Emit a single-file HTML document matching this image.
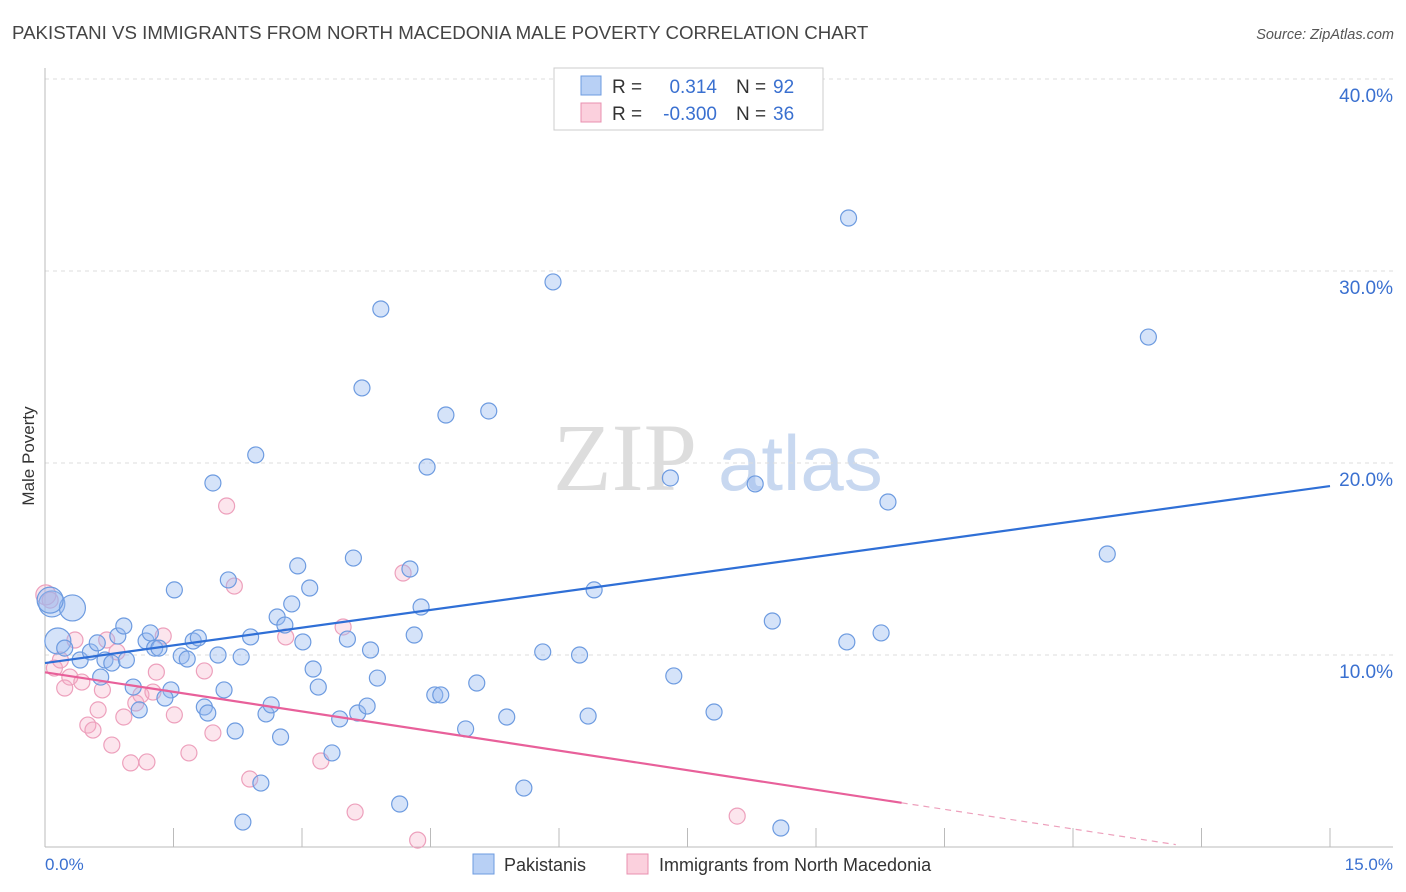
<!DOCTYPE html>
<html><head><meta charset="utf-8">
<style>
body{margin:0;background:#fff;font-family:"Liberation Sans",sans-serif;}
#wrap{position:relative;width:1406px;height:892px;overflow:hidden;}
</style></head>
<body>
<div id="wrap">
<svg id="svg" width="1406" height="892" xmlns="http://www.w3.org/2000/svg">
<text x="12" y="39" font-size="18.7" fill="#444">PAKISTANI VS IMMIGRANTS FROM NORTH MACEDONIA MALE POVERTY CORRELATION CHART</text>
<text x="1394" y="39" font-size="14.5" fill="#555" font-style="italic" text-anchor="end">Source: ZipAtlas.com</text>
<g>
<text x="553" y="490" font-family="Liberation Serif,serif" font-size="96" fill="#ddd">ZIP</text>
<text x="718" y="490" font-size="78" fill="#c8d8f0">atlas</text>
</g>
<g id="grid"></g>
<g id="axes"></g>
<g id="pts"></g>
<g id="lines"></g>
<text x="34" y="456" font-size="17" fill="#333" text-anchor="middle" transform="rotate(-90 34 456)">Male Poverty</text>
<text x="45" y="870" font-size="17" fill="#3a70d0">0.0%</text>
<text x="1393" y="870" font-size="17" fill="#3a70d0" text-anchor="end">15.0%</text>
<g>
<rect x="554" y="68" width="269" height="62" fill="#fff" stroke="#ccc"/>
<rect x="581" y="76" width="20" height="19" fill="#b8d0f5" stroke="#6d9be0"/>
<rect x="581" y="103" width="20" height="19" fill="#fbd0dd" stroke="#e890b0"/>
<text x="612" y="93" font-size="19" fill="#333">R = </text>
<text x="717" y="93" font-size="19" fill="#3a70d0" text-anchor="end">0.314</text>
<text x="736" y="93" font-size="19" fill="#333">N = </text>
<text x="773" y="93" font-size="19" fill="#3a70d0">92</text>
<text x="612" y="120" font-size="19" fill="#333">R = </text>
<text x="717" y="120" font-size="19" fill="#3a70d0" text-anchor="end">-0.300</text>
<text x="736" y="120" font-size="19" fill="#333">N = </text>
<text x="773" y="120" font-size="19" fill="#3a70d0">36</text>
</g>
<g>
<rect x="473" y="854" width="21" height="20" fill="#b8d0f5" stroke="#6d9be0"/>
<text x="504" y="871" font-size="18" fill="#333">Pakistanis</text>
<rect x="627" y="854" width="21" height="20" fill="#fbd0dd" stroke="#e890b0"/>
<text x="659" y="871" font-size="18" fill="#333">Immigrants from North Macedonia</text>
</g>
</svg>
</div>
<script>
const yTicks=[10,20,30,40];
const yTickLabels=["10.0%","20.0%","30.0%","40.0%"];
const xTicks=[0,1.5,3,4.5,6,7.5,9,10.5,12,13.5,15];
const blueX=[0.08,0.32,0.15,0.06,0.23,0.41,0.53,0.61,0.70,0.78,0.95,0.65,0.85,0.92,1.03,1.10,1.18,1.23,1.28,1.33,1.47,1.40,1.51,1.59,1.66,1.73,1.79,1.86,1.90,1.96,2.02,2.09,2.14,2.22,2.29,2.40,2.46,2.52,2.58,2.64,2.75,2.31,2.71,2.80,2.88,2.95,3.01,3.09,3.13,3.19,3.35,3.44,3.53,3.60,3.65,3.70,3.76,3.80,3.88,3.92,4.14,4.26,4.31,4.39,4.46,4.55,4.62,4.68,4.91,5.04,5.18,5.39,5.59,5.81,5.93,6.24,6.34,6.41,7.30,7.34,7.81,8.29,8.49,8.59,9.36,9.38,9.76,9.84,12.40,12.88];
const blueY=[12.66,12.45,10.73,12.86,10.36,9.74,10.16,10.63,9.74,9.58,9.74,8.85,10.99,11.51,8.33,7.14,10.73,11.15,10.36,10.36,8.18,7.76,13.39,9.95,9.79,10.73,10.89,7.29,6.98,18.96,10.0,8.18,13.91,6.04,9.90,10.94,20.42,3.33,6.93,7.40,5.73,1.30,11.98,11.56,12.66,14.64,10.68,13.49,9.27,8.33,4.90,6.67,10.83,15.05,6.98,23.91,7.34,10.26,8.80,28.02,2.24,14.48,11.04,12.50,19.79,7.92,7.92,22.50,6.15,8.54,22.71,6.77,3.07,10.16,29.43,10.0,6.82,13.39,19.22,8.91,7.03,18.91,11.77,0.99,10.68,32.76,11.15,17.97,15.26,26.56];
const blueBig=[0,1,2,3];
const pinkX=[0.01,0.06,0.11,0.18,0.23,0.29,0.35,0.43,0.50,0.56,0.62,0.67,0.72,0.78,0.84,0.92,1.00,1.06,1.12,1.19,1.26,1.30,1.38,1.51,1.68,1.86,1.96,2.12,2.21,2.39,2.81,3.22,3.48,3.62,4.18,4.35,8.08];
const pinkY=[13.13,12.86,9.32,9.74,8.28,8.85,10.78,8.59,6.35,6.09,7.14,8.18,10.78,5.31,10.16,6.77,4.38,7.50,7.92,4.43,8.07,9.11,10.99,6.88,4.90,9.17,5.94,17.76,13.59,3.54,10.94,4.48,11.46,1.82,14.27,0.36,1.61];
const blueLine=[0,9.58,15,18.8];
const pinkLine=[0,9.1,10,2.3];
const NS="http://www.w3.org/2000/svg";
const X0=45,X1=1330,Y0=847;
function sx(v){return X0+(X1-X0)*v/15;}
function sy(v){return Y0-19.2*v;}
function mk(t,a,p){const e=document.createElementNS(NS,t);for(const k in a)e.setAttribute(k,a[k]);document.getElementById(p).appendChild(e);return e;}
yTicks.forEach((t,i)=>{
 const l=mk('line',{x1:45,x2:1393,y1:sy(t),y2:sy(t),stroke:'#ddd','stroke-dasharray':'4,4'},'grid');
 
 
 const tx=mk('text',{x:1393,y:sy(t)+23,'font-size':19,fill:'#3a70d0','text-anchor':'end'},'grid');
 tx.textContent=yTickLabels[i];
 
 
});
const ax=mk('line',{x1:45,x2:45,y1:68,y2:847,stroke:'#bbb'},'axes');


const bx=mk('line',{x1:45,x2:1393,y1:847,y2:847,stroke:'#bbb'},'axes');


xTicks.forEach(t=>{
 const l=mk('line',{x1:sx(t),x2:sx(t),y1:828,y2:847,stroke:'#bbb'},'axes');
 
 
});
pinkX.forEach((v,i)=>{
 const c=mk('circle',{cx:sx(v),cy:sy(pinkY[i]),r:i==0?10:8,fill:'rgba(245,170,195,0.3)',stroke:'#eda0bc','stroke-width':1.2},'pts');
 
 
});
blueX.forEach((v,i)=>{
 const c=mk('circle',{cx:sx(v),cy:sy(blueY[i]),r:blueBig.includes(i)?13:8,fill:'rgba(150,185,240,0.4)',stroke:'#6d9be0','stroke-width':1.2},'pts');
 
 
});
const bl=mk('line',{x1:sx(blueLine[0]),y1:sy(blueLine[1]),x2:sx(blueLine[2]),y2:sy(blueLine[3]),stroke:'#2f6fd6','stroke-width':2.2},'lines');


const pl=mk('line',{x1:sx(pinkLine[0]),y1:sy(pinkLine[1]),x2:sx(pinkLine[2]),y2:sy(pinkLine[3]),stroke:'#e8609a','stroke-width':2.2},'lines');


const slope=(pinkLine[3]-pinkLine[1])/(pinkLine[2]-pinkLine[0]);
const xe=13.2;
const pd=mk('line',{x1:sx(pinkLine[2]),y1:sy(pinkLine[3]),x2:sx(xe),y2:sy(pinkLine[3]+slope*(xe-pinkLine[2])),stroke:'#eda0bc','stroke-width':1.2,'stroke-dasharray':'6,5'},'lines');


</script>
</body></html>
